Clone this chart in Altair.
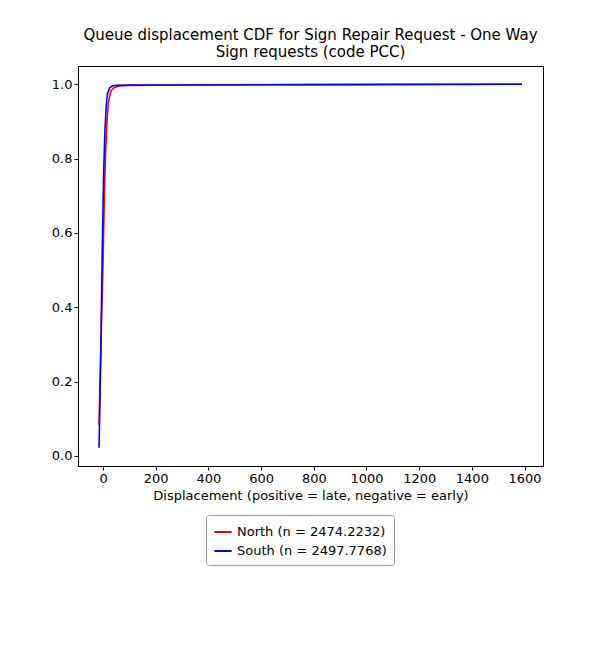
import altair as alt
import pandas as pd

north_x = [-15, -8, 0, 5, 10, 15, 20, 30, 40, 60, 100, 300, 800, 1590]
north_y = [0.083, 0.30, 0.52, 0.70, 0.82, 0.90, 0.95, 0.982, 0.990, 0.995, 0.997, 0.998, 0.999, 1.0]
south_x = [-15, -8, -3, 2, 7, 12, 17, 25, 35, 50, 100, 300, 800, 1590]
south_y = [0.022, 0.30, 0.55, 0.75, 0.87, 0.94, 0.975, 0.99, 0.995, 0.997, 0.998, 0.998, 0.999, 1.0]

rows = [{"x": a, "y": b, "s": "North (n = 2474.2232)"} for a, b in zip(north_x, north_y)]
rows += [{"x": a, "y": b, "s": "South (n = 2497.7768)"} for a, b in zip(south_x, south_y)]
df = pd.DataFrame(rows)

chart = alt.Chart(df).mark_line(strokeWidth=1.6).encode(
    x=alt.X("x:Q", scale=alt.Scale(domain=[-95, 1670], nice=False, zero=False),
            axis=alt.Axis(values=list(range(0, 1601, 200)), format="d", title="Displacement (positive = late, negative = early)",
                          grid=False, tickSize=4, labelFontSize=13, titleFontSize=13, titleFontWeight="normal",
                          domainColor="black", tickColor="black", labelColor="black", titleColor="black")),
    y=alt.Y("y:Q", scale=alt.Scale(domain=[-0.027, 1.049], nice=False),
            axis=alt.Axis(values=[0, 0.2, 0.4, 0.6, 0.8, 1.0], format=".1f", title=None, grid=False, tickSize=4,
                          labelFontSize=13, domainColor="black", tickColor="black", labelColor="black")),
    color=alt.Color("s:N", scale=alt.Scale(range=["red", "blue"]),
                    legend=alt.Legend(title=None, orient="none", legendX=128, legendY=449, labelFontSize=13,
                                      symbolType="stroke", symbolStrokeWidth=2, symbolSize=300,
                                      strokeColor="#999", fillColor="white", padding=7, cornerRadius=3)),
).properties(
    width=465, height=400,
    padding={"left": 43, "top": 20, "right": 5, "bottom": 5},
    title=alt.TitleParams(["Queue displacement CDF for Sign Repair Request - One Way", "Sign  requests (code PCC)"],
                          fontSize=15, fontWeight="normal", color="black", lineHeight=17, offset=6),
).configure(font="DejaVu Sans").configure_view(stroke="black", strokeWidth=1)

chart.save("out.html", embed_options={"renderer": "svg", "actions": False})
